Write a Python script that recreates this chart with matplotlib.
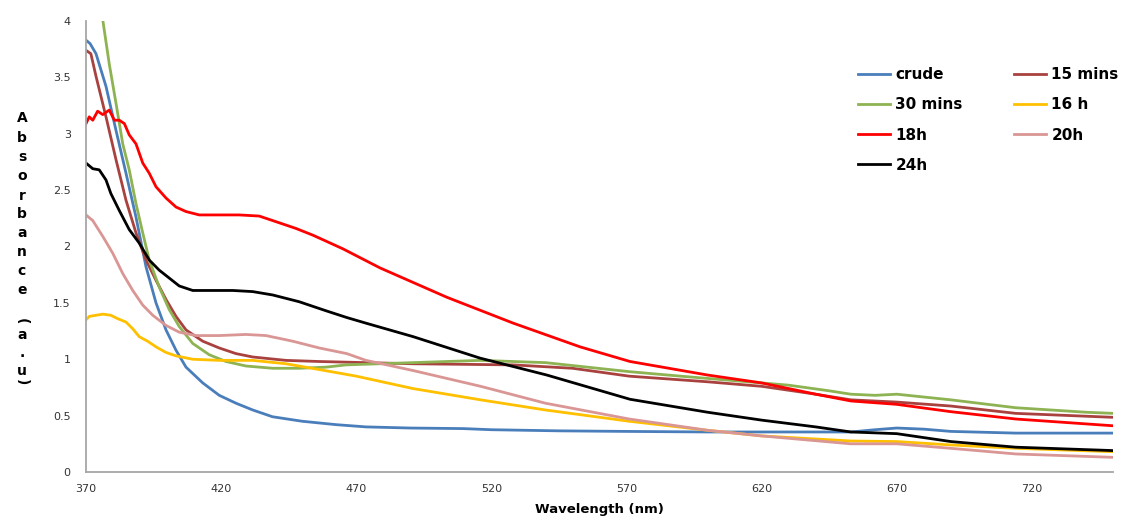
import matplotlib
matplotlib.use('Agg')
import matplotlib.pyplot as plt
from matplotlib.ticker import FormatStrFormatter

# UV-Vis absorbance spectra of the crude sample and after each reaction time

crude_wl = [370, 371.5, 373.7, 377.4, 381.1, 384.8, 388.5, 392.2, 395.9, 399.6, 403.3, 407,
            413.2, 419.3, 425.5, 431.7, 439, 450, 462.5, 473.6, 490, 509.5, 520, 545, 570,
            600, 620, 640, 653, 662, 670, 680, 690, 714, 750]
crude_abs = [3.83, 3.80, 3.71, 3.42, 3.03, 2.65, 2.26, 1.82, 1.50, 1.26, 1.08, 0.93,
             0.79, 0.68, 0.61, 0.55, 0.49, 0.45, 0.42, 0.40, 0.39, 0.385, 0.375, 0.365, 0.36,
             0.355, 0.355, 0.355, 0.355, 0.375, 0.39, 0.38, 0.36, 0.345, 0.345]

min15_wl = [370, 371.8, 373.7, 377.4, 381.1, 384.8, 388.5, 392.2, 395.9, 399.6, 403.3, 407,
            413.2, 419.3, 425.5, 431.7, 444, 456.3, 473.6, 491, 528, 550, 571, 600, 620, 640,
            653, 670, 690, 714, 750]
min15_abs = [3.74, 3.71, 3.51, 3.15, 2.77, 2.41, 2.12, 1.88, 1.70, 1.53, 1.38, 1.26,
             1.16, 1.10, 1.05, 1.02, 0.99, 0.98, 0.97, 0.96, 0.95, 0.92, 0.85, 0.80, 0.76, 0.69,
             0.64, 0.62, 0.585, 0.52, 0.485]

min30_wl = [370, 373, 376.2, 378.6, 381.1, 383.6, 386, 388.5, 391, 393.4, 397.1, 400.8,
            404.5, 409.5, 415.6, 421.8, 429.2, 439.1, 448.9, 458.8, 466.2, 491, 516, 540, 571,
            590, 610, 630, 645, 653, 662, 670, 690, 714, 740, 750]
min30_abs = [4.8, 4.4, 4.01, 3.62, 3.27, 2.91, 2.68, 2.38, 2.12, 1.88, 1.64, 1.44,
             1.29, 1.14, 1.04, 0.98, 0.94, 0.92, 0.92, 0.93, 0.95, 0.97, 0.99, 0.97, 0.89,
             0.85, 0.81, 0.77, 0.72, 0.69, 0.68, 0.69, 0.64, 0.57, 0.53, 0.52]

h16_wl = [370, 371.2, 373.7, 376.2, 379.2, 381.7, 384.8, 387.3, 389.7, 392.8, 395.9, 399.6,
          403.3, 409.5, 419.3, 431.7, 444, 456, 470, 491, 516, 540, 571, 600, 620, 653, 670,
          690, 714, 750]
h16_abs = [1.35, 1.38, 1.39, 1.40, 1.39, 1.36, 1.33, 1.27, 1.20, 1.16, 1.11, 1.06,
           1.03, 1.00, 0.99, 0.99, 0.96, 0.91, 0.85, 0.74, 0.64, 0.55, 0.45, 0.37, 0.32, 0.275, 0.27,
           0.24, 0.21, 0.18]

h18_wl = [370, 371.2, 372.5, 374.3, 376.2, 378.6, 380.5, 382.3, 384.2, 386, 388.5, 391,
          393.4, 395.9, 399.6, 403.3, 407, 411.9, 419.3, 426.7, 434.1, 440.3, 447.7, 454,
          465, 478.8, 503.5, 528.1, 552.8, 571.3, 600, 620, 640, 653, 670, 690, 714, 750]
h18_abs = [3.09, 3.15, 3.12, 3.20, 3.17, 3.21, 3.12, 3.12, 3.09, 2.99, 2.91, 2.74,
           2.65, 2.53, 2.43, 2.35, 2.31, 2.28, 2.28, 2.28, 2.27, 2.22, 2.16, 2.10,
           1.98, 1.81, 1.55, 1.32, 1.11, 0.98, 0.86, 0.79, 0.69, 0.63, 0.60, 0.535, 0.47, 0.41]

h20_wl = [370, 372.5, 376.2, 379.9, 383.6, 387.3, 391, 394.7, 399.6, 404.5, 410.7, 419.3,
          429.2, 436.6, 446.5, 456.3, 466.5, 473.6, 491, 516, 540, 571, 600, 620, 653, 670,
          690, 714, 750]
h20_abs = [2.28, 2.23, 2.09, 1.94, 1.76, 1.61, 1.48, 1.39, 1.30, 1.24, 1.21, 1.21,
           1.22, 1.21, 1.16, 1.10, 1.05, 0.99, 0.90, 0.76, 0.61, 0.47, 0.37, 0.32, 0.25, 0.25,
           0.21, 0.16, 0.13]

h24_wl = [370, 372.5, 374.9, 377.4, 379.2, 382.3, 386, 389.7, 393.4, 397.1, 400.8, 404.5,
          409.5, 416.9, 424.3, 431.7, 439.1, 448.9, 458.8, 466.5, 473.6, 491.1, 515.8, 540.5,
          571.3, 600, 620, 640, 653, 670, 690, 714, 750]
h24_abs = [2.74, 2.69, 2.68, 2.59, 2.47, 2.32, 2.15, 2.03, 1.88, 1.79, 1.72, 1.65,
           1.61, 1.61, 1.61, 1.60, 1.57, 1.51, 1.43, 1.37, 1.32, 1.20, 1.01, 0.86,
           0.645, 0.53, 0.46, 0.40, 0.355, 0.34, 0.27, 0.22, 0.19]

series = [
    ('crude', crude_wl, crude_abs, '#4A7EBB'),
    ('15 mins', min15_wl, min15_abs, '#A9423F'),
    ('30 mins', min30_wl, min30_abs, '#8DB352'),
    ('16 h', h16_wl, h16_abs, '#FFC000'),
    ('18h', h18_wl, h18_abs, '#FF0000'),
    ('20h', h20_wl, h20_abs, '#D99694'),
    ('24h', h24_wl, h24_abs, '#000000'),
]

x_ticks = [370, 420, 470, 520, 570, 620, 670, 720]
y_ticks = [0, 0.5, 1, 1.5, 2, 2.5, 3, 3.5, 4]

W, H = 1129, 518
fig = plt.figure(figsize=(W / 100, H / 100), dpi=100)
ax = fig.add_axes([86 / W, 1 - 472 / H, (1113 - 86) / W, (472 - 21) / H])

lines = {}
for name, wl, ab, col in series:
    lines[name], = ax.plot(wl, ab, color=col, linewidth=2.0, label=name)

ax.set_xlim(370, 750)
ax.set_ylim(0, 4)
ax.set_xticks(x_ticks)
ax.set_yticks(y_ticks)
ax.yaxis.set_major_formatter(FormatStrFormatter('%g'))
ax.tick_params(length=0, labelsize=8, labelcolor='#333333')
ax.tick_params(axis='y', pad=11)
ax.tick_params(axis='x', pad=9)

for side in ['top', 'right']:
    ax.spines[side].set_visible(False)
for side in ['left', 'bottom']:
    ax.spines[side].set_color('#A6A6A6')
    ax.spines[side].set_linewidth(1.3)

ax.set_xlabel('Wavelength (nm)', fontsize=9.5, fontweight='bold')
ax.xaxis.set_label_coords(0.5, -0.068)

# stacked y-axis title, one character per line
ylab = [('A', 118), ('b', 138), ('s', 157), ('o', 176), ('r', 196), ('b', 214),
        ('a', 233), ('n', 252), ('c', 271), ('e', 290), ('(', 321), ('a', 335),
        ('.', 353), ('u', 371), (')', 382)]
for ch, ypx in ylab:
    rot = -90 if ch in '()' else 0
    fig.text(22 / W, 1 - ypx / H, ch, fontsize=10, fontweight='bold',
             ha='center', va='center', rotation=rot)

# legend filled row by row: two columns
order = ['crude', '30 mins', '18h', '24h', '15 mins', '16 h', '20h']
leg = fig.legend([lines[n] for n in order], order, ncol=2, frameon=False,
                 loc='upper left', bbox_to_anchor=(858 / W, 1 - 67 / H),
                 prop={'size': 11, 'weight': 'bold'}, borderpad=0, borderaxespad=0,
                 handlelength=2.1, handletextpad=0.35, labelspacing=1.0,
                 columnspacing=3.35)

fig.savefig('out.png', dpi=100)
